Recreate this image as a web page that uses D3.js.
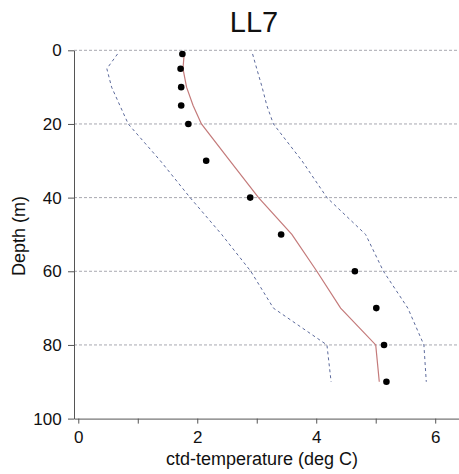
<!DOCTYPE html>
<html>
<head>
<meta charset="utf-8">
<script src="https://cdn.jsdelivr.net/npm/d3@7"></script>
<style>
  body { margin: 0; background: #fff; }
  svg { font-family: 'Liberation Sans', Arial, sans-serif; }
</style>
</head>
<body>
<svg id="chart" width="459" height="474"></svg>
<script>
// Observed CTD temperature (dots)
const obsDepth = [1, 5, 10, 15, 20, 30, 40, 50, 60, 70, 80, 90];
const obsTemp = [1.75, 1.72, 1.73, 1.73, 1.85, 2.15, 2.89, 3.41, 4.65, 5.01, 5.14, 5.18];

// Model mean and envelope
const modelDepth = [1, 5, 10, 15, 20, 30, 40, 50, 60, 70, 80, 90];
const modelMean = [1.78, 1.76, 1.82, 1.93, 2.07, 2.55, 3.03, 3.59, 4.01, 4.41, 5.0, 5.06];
const modelLow = [0.66, 0.48, 0.56, 0.7, 0.84, 1.38, 1.88, 2.41, 2.9, 3.28, 4.18, 4.25];
const modelHigh = [2.93, 3.0, 3.09, 3.17, 3.28, 3.76, 4.18, 4.83, 5.13, 5.54, 5.81, 5.85];

const xTicks = [0, 1, 2, 3, 4, 5, 6];
const xLabels = [0, 2, 4, 6];
const yTicks = [0, 20, 40, 60, 80, 100];
const gridDepths = [0, 20, 40, 60, 80];

const svg = d3.select('#chart');
const width = 459;

const margin = { left: 74, top: 50.3, bottom: 418.6 };

const xScale = d3.scaleLinear().domain([-0.072, 6.4]).range([margin.left, width]);
const yScale = d3.scaleLinear().domain([0, 100]).range([margin.top, margin.bottom]);

// Gridlines
svg.append('g')
  .selectAll('line')
  .data(gridDepths)
  .enter()
  .append('line')
  .attr('x1', margin.left)
  .attr('x2', width)
  .attr('y1', d => yScale(d))
  .attr('y2', d => yScale(d))
  .attr('stroke', '#a8a8b0')
  .attr('stroke-width', 1)
  .attr('stroke-dasharray', '3,2');

// Axes
const xAxis = d3.axisBottom(xScale)
  .tickValues(xTicks)
  .tickSize(5)
  .tickSizeOuter(0)
  .tickFormat(d => (xLabels.includes(d) ? d : ''));

const yAxis = d3.axisLeft(yScale)
  .tickValues(yTicks)
  .tickSize(6)
  .tickSizeOuter(0);

const gx = svg.append('g')
  .attr('transform', `translate(0,${margin.bottom})`)
  .call(xAxis);
gx.selectAll('text').attr('font-size', 17).attr('fill', '#111').attr('dy', '0.95em');

const gy = svg.append('g')
  .attr('transform', `translate(${margin.left},0)`)
  .call(yAxis);
gy.selectAll('text').attr('font-size', 17).attr('fill', '#111').attr('dx', '-0.2em');

svg.selectAll('.domain').attr('stroke', '#555');
svg.selectAll('.tick line').attr('stroke', '#555');
svg.selectAll('.tick text').attr('font-family', "'Liberation Sans', Arial, sans-serif");

// Lines
const line = d3.line()
  .x(d => xScale(d[0]))
  .y(d => yScale(d[1]));

const envelope = [modelLow, modelHigh];
svg.append('g')
  .selectAll('path')
  .data(envelope)
  .enter()
  .append('path')
  .attr('d', vals => line(vals.map((v, i) => [v, modelDepth[i]])))
  .attr('fill', 'none')
  .attr('stroke', '#5c6a9c')
  .attr('stroke-width', 1)
  .attr('stroke-dasharray', '3,3');

svg.append('path')
  .attr('d', line(modelMean.map((v, i) => [v, modelDepth[i]])))
  .attr('fill', 'none')
  .attr('stroke', '#c47a7a')
  .attr('stroke-width', 1.2);

// Observations
svg.append('g')
  .selectAll('circle')
  .data(obsTemp.map((t, i) => ({ t, d: obsDepth[i] })))
  .enter()
  .append('circle')
  .attr('cx', d => xScale(d.t))
  .attr('cy', d => yScale(d.d))
  .attr('r', 3.3)
  .attr('fill', '#000');

// Titles
svg.append('text')
  .attr('x', 254)
  .attr('y', 32)
  .attr('text-anchor', 'middle')
  .attr('font-size', 29)
  .attr('fill', '#111')
  .text('LL7');

svg.append('text')
  .attr('x', 262)
  .attr('y', 465)
  .attr('text-anchor', 'middle')
  .attr('font-size', 18)
  .attr('fill', '#111')
  .text('ctd-temperature (deg C)');

svg.append('text')
  .attr('transform', 'translate(25,236) rotate(-90)')
  .attr('text-anchor', 'middle')
  .attr('font-size', 18)
  .attr('fill', '#111')
  .text('Depth (m)');
</script>
</body>
</html>
